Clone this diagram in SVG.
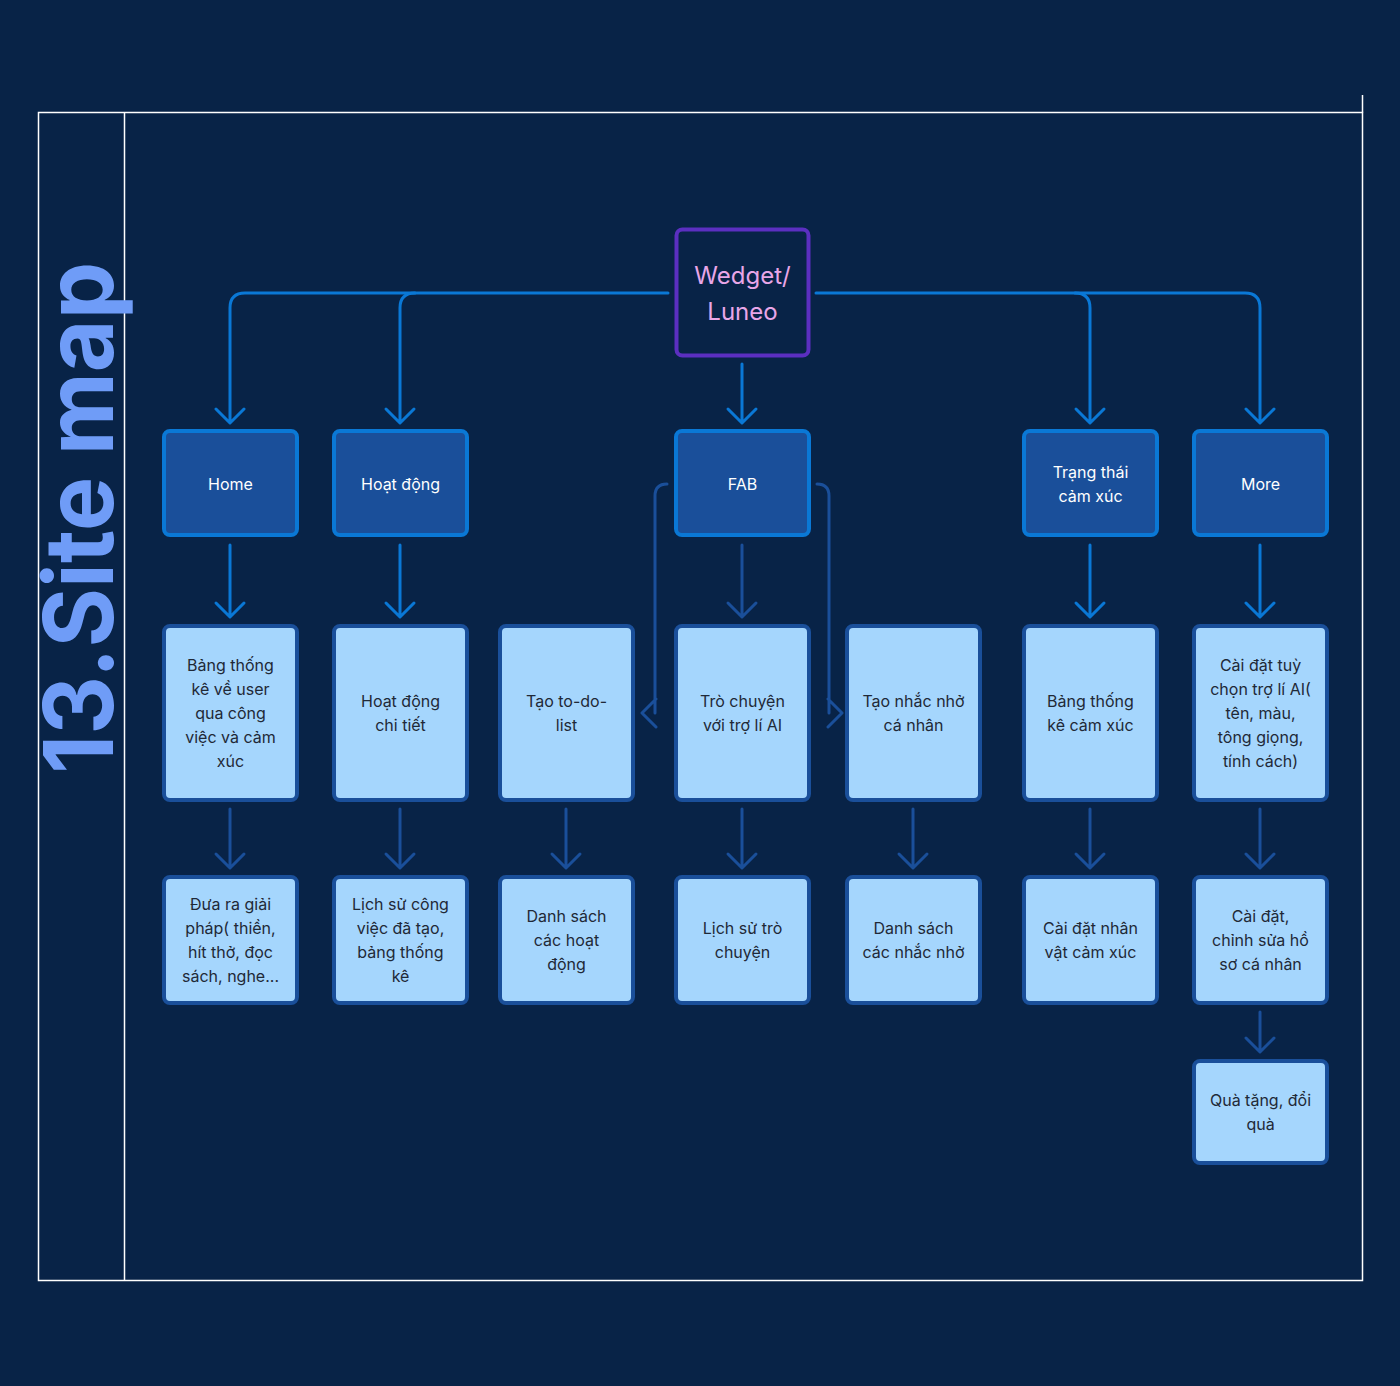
<svg xmlns="http://www.w3.org/2000/svg" width="1400" height="1386" viewBox="0 0 1400 1386">
<style>
.frame{fill:none;stroke:#ffffff;stroke-width:1.5}
.l1{fill:none;stroke:#0a78d6;stroke-width:3;stroke-linecap:round;stroke-linejoin:round}
.l2{fill:none;stroke:#1a4f9a;stroke-width:3;stroke-linecap:round;stroke-linejoin:round}
.dark rect{fill:#1a4f9a;stroke:#0a78d6;stroke-width:4}
.light rect{fill:#a5d6fd;stroke:#1a4f9a;stroke-width:4}
.dark text{fill:#ffffff}
.light text{fill:#1f2937}
text{font-family:Inter,"Noto Sans","Liberation Sans",sans-serif;font-size:16px;text-anchor:middle}
</style>
<rect width="1400" height="1386" fill="#082347"/>
<g id="frame">
<rect class="frame" x="38.5" y="112.5" width="1324" height="1168"/>
<line class="frame" x1="124.5" y1="112.5" x2="124.5" y2="1280.5"/>
<line class="frame" x1="1362.5" y1="95" x2="1362.5" y2="112.5"/>
</g>
<text transform="translate(113,774) rotate(-90)" style="font-family:Inter,'Liberation Sans',sans-serif;font-weight:700;font-size:96px;fill:#6f9cf7;text-anchor:start" textLength="512" lengthAdjust="spacingAndGlyphs">13.Site map</text>

<g id="connectors">
<path class="l1" d="M668,293 H245 Q230,293 230,308 V422 M216,409 L230,423 L244,409"/>
<path class="l1" d="M415,293 Q400,293 400,308 V422 M386,409 L400,423 L414,409"/>
<path class="l1" d="M816,293 H1245 Q1260,293 1260,308 V422 M1246,409 L1260,423 L1274,409"/>
<path class="l1" d="M1075,293 Q1090,293 1090,308 V422 M1076,409 L1090,423 L1104,409"/>
<path class="l1" d="M742,364 V422 M728,409 L742,423 L756,409"/>
<path class="l1" d="M230,545 V616 M216,603 L230,617 L244,603"/>
<path class="l1" d="M400,545 V616 M386,603 L400,617 L414,603"/>
<path class="l1" d="M1090,545 V616 M1076,603 L1090,617 L1104,603"/>
<path class="l1" d="M1260,545 V616 M1246,603 L1260,617 L1274,603"/>
<path class="l2" d="M742,545 V616 M728,603 L742,617 L756,603"/>
<path class="l2" d="M667,484 Q655,484 655,496 V713 M656,699 L642,713 L656,727"/>
<path class="l2" d="M817,484 Q829,484 829,496 V713 M828,699 L842,713 L828,727"/>
<path class="l2" d="M230,809 V867 M216,854 L230,868 L244,854"/>
<path class="l2" d="M400,809 V867 M386,854 L400,868 L414,854"/>
<path class="l2" d="M566,809 V867 M552,854 L566,868 L580,854"/>
<path class="l2" d="M742,809 V867 M728,854 L742,868 L756,854"/>
<path class="l2" d="M913,809 V867 M899,854 L913,868 L927,854"/>
<path class="l2" d="M1090,809 V867 M1076,854 L1090,868 L1104,854"/>
<path class="l2" d="M1260,809 V867 M1246,854 L1260,868 L1274,854"/>
<path class="l2" d="M1260,1012 V1051 M1246,1038 L1260,1052 L1274,1038"/>
</g>

<g id="root">
<rect x="676.5" y="229.5" width="132" height="126" rx="6" fill="#082347" stroke="#5b2fc0" stroke-width="4"/>
<text x="742.5" y="284" style="font-size:24px;fill:#e8a6e8">Wedget/</text>
<text x="742.5" y="320" style="font-size:24px;fill:#e8a6e8">Luneo</text>
</g>

<g id="home" class="dark"><rect x="164" y="431" width="133" height="104" rx="6"/><text x="230.5" y="490">Home</text></g>
<g id="hoatdong" class="dark"><rect x="334" y="431" width="133" height="104" rx="6"/><text x="400.5" y="490">Hoạt động</text></g>
<g id="fab" class="dark"><rect x="676" y="431" width="133" height="104" rx="6"/><text x="742.5" y="490">FAB</text></g>
<g id="trangthai" class="dark"><rect x="1024" y="431" width="133" height="104" rx="6"/><text x="1090.5" y="478">Trạng thái</text><text x="1090.5" y="502">cảm xúc</text></g>
<g id="more" class="dark"><rect x="1194" y="431" width="133" height="104" rx="6"/><text x="1260.5" y="490">More</text></g>

<g id="bangthongke" class="light"><rect x="164" y="626" width="133" height="174" rx="6"/><text x="230.5" y="671">Bảng thống</text><text x="230.5" y="695">kê về user</text><text x="230.5" y="719">qua công</text><text x="230.5" y="743">việc và cảm</text><text x="230.5" y="767">xúc</text></g>
<g id="hoatdongchitiet" class="light"><rect x="334" y="626" width="133" height="174" rx="6"/><text x="400.5" y="707">Hoạt động</text><text x="400.5" y="731">chi tiết</text></g>
<g id="todolist" class="light"><rect x="500" y="626" width="133" height="174" rx="6"/><text x="566.5" y="707">Tạo to-do-</text><text x="566.5" y="731">list</text></g>
<g id="trochuyen" class="light"><rect x="676" y="626" width="133" height="174" rx="6"/><text x="742.5" y="707">Trò chuyện</text><text x="742.5" y="731">với trợ lí AI</text></g>
<g id="nhacnho" class="light"><rect x="847" y="626" width="133" height="174" rx="6"/><text x="913.5" y="707">Tạo nhắc nhở</text><text x="913.5" y="731">cá nhân</text></g>
<g id="bangcamxuc" class="light"><rect x="1024" y="626" width="133" height="174" rx="6"/><text x="1090.5" y="707">Bảng thống</text><text x="1090.5" y="731">kê cảm xúc</text></g>
<g id="caidatai" class="light"><rect x="1194" y="626" width="133" height="174" rx="6"/><text x="1260.5" y="671">Cài đặt tuỳ</text><text x="1260.5" y="695">chọn trợ lí AI(</text><text x="1260.5" y="719">tên, màu,</text><text x="1260.5" y="743">tông giọng,</text><text x="1260.5" y="767">tính cách)</text></g>

<g id="giaiphap" class="light"><rect x="164" y="877" width="133" height="126" rx="6"/><text x="230.5" y="910">Đưa ra giải</text><text x="230.5" y="934">pháp( thiền,</text><text x="230.5" y="958">hít thở, đọc</text><text x="230.5" y="982">sách, nghe...</text></g>
<g id="lichsucongviec" class="light"><rect x="334" y="877" width="133" height="126" rx="6"/><text x="400.5" y="910">Lịch sử công</text><text x="400.5" y="934">việc đã tạo,</text><text x="400.5" y="958">bảng thống</text><text x="400.5" y="982">kê</text></g>
<g id="danhsachhoatdong" class="light"><rect x="500" y="877" width="133" height="126" rx="6"/><text x="566.5" y="922">Danh sách</text><text x="566.5" y="946">các hoạt</text><text x="566.5" y="970">động</text></g>
<g id="lichsutrochuyen" class="light"><rect x="676" y="877" width="133" height="126" rx="6"/><text x="742.5" y="934">Lịch sử trò</text><text x="742.5" y="958">chuyện</text></g>
<g id="danhsachnhacnho" class="light"><rect x="847" y="877" width="133" height="126" rx="6"/><text x="913.5" y="934">Danh sách</text><text x="913.5" y="958">các nhắc nhở</text></g>
<g id="nhanvat" class="light"><rect x="1024" y="877" width="133" height="126" rx="6"/><text x="1090.5" y="934">Cài đặt nhân</text><text x="1090.5" y="958">vật cảm xúc</text></g>
<g id="hoso" class="light"><rect x="1194" y="877" width="133" height="126" rx="6"/><text x="1260.5" y="922">Cài đặt,</text><text x="1260.5" y="946">chỉnh sửa hồ</text><text x="1260.5" y="970">sơ cá nhân</text></g>
<g id="quatang" class="light"><rect x="1194" y="1061" width="133" height="102" rx="6"/><text x="1260.5" y="1106">Quà tặng, đổi</text><text x="1260.5" y="1130">quà</text></g>
</svg>
